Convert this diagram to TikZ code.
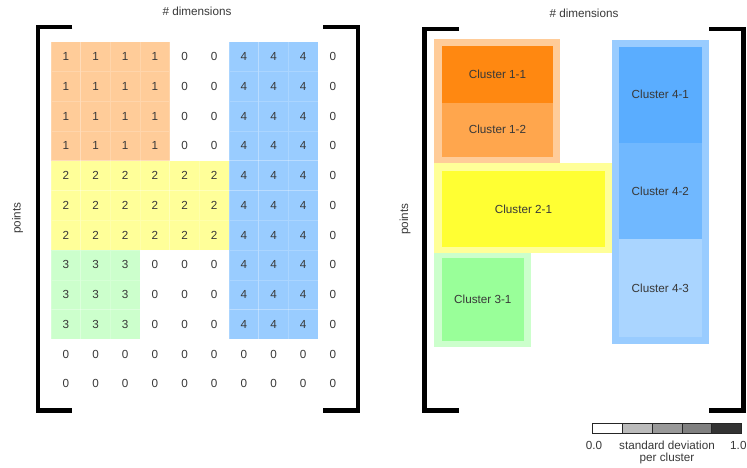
\documentclass[tikz,border=0pt]{standalone}
\usepackage{fontspec}
\setmainfont{Liberation Sans}
\definecolor{lorange}{HTML}{FFCC99}
\definecolor{lyellow}{HTML}{FFFF99}
\definecolor{lgreen}{HTML}{CCFFCC}
\definecolor{lblue}{HTML}{99CCFF}
\definecolor{dorange}{HTML}{FF8811}
\definecolor{morange}{HTML}{FFA64D}
\definecolor{dyellow}{HTML}{FFFF33}
\definecolor{dgreen}{HTML}{99FF99}
\definecolor{blueA}{HTML}{5AADFF}
\definecolor{blueB}{HTML}{70B8FF}
\definecolor{blueC}{HTML}{AAD5FF}
\definecolor{txtgray}{HTML}{383838}
\definecolor{gA}{HTML}{BBBBBB}
\definecolor{gB}{HTML}{999999}
\definecolor{gC}{HTML}{808080}
\definecolor{gD}{HTML}{333333}
\begin{document}
\begin{tikzpicture}[x=1pt,y=-1pt,
  txt/.style={font=\fontsize{11.7}{14}\selectfont, text=txtgray, inner sep=0pt, outer sep=0pt},
  cell/.style={txt, minimum width=29.67pt, minimum height=29.76pt},
  v0/.style={},
  v1/.style={fill=lorange, draw=white, draw opacity=.18, line width=.5pt},
  v2/.style={fill=lyellow, draw=white, draw opacity=.18, line width=.5pt},
  v3/.style={fill=lgreen, draw=white, draw opacity=.18, line width=.5pt},
  v4/.style={fill=lblue, draw=white, draw opacity=.18, line width=.5pt},
  bracket/.style={line width=4.3pt, line join=miter, black},
  box/.style={txt, draw=none},
  legseg/.style={draw=black!85, line width=.8pt, minimum width=29.88pt, minimum height=10pt, inner sep=0pt, outer sep=0pt}
]
\useasboundingbox (0,0) rectangle (747,468);

% ---------- left panel: matrix ----------
\foreach \rowvals [count=\r] in {
  {1,1,1,1,0,0,4,4,4,0},
  {1,1,1,1,0,0,4,4,4,0},
  {1,1,1,1,0,0,4,4,4,0},
  {1,1,1,1,0,0,4,4,4,0},
  {2,2,2,2,2,2,4,4,4,0},
  {2,2,2,2,2,2,4,4,4,0},
  {2,2,2,2,2,2,4,4,4,0},
  {3,3,3,0,0,0,4,4,4,0},
  {3,3,3,0,0,0,4,4,4,0},
  {3,3,3,0,0,0,4,4,4,0},
  {0,0,0,0,0,0,0,0,0,0},
  {0,0,0,0,0,0,0,0,0,0}} {
  \foreach \v [count=\c] in \rowvals {
    \node[cell, v\v] (m-\r-\c) at ({51+29.67*(\c-0.5)}, {41.7+29.76*(\r-0.5)}) {\v};
  }
}

\node[txt] (dimL) at (197,11) {\# dimensions};
\node[txt, rotate=90] (ptsL) at (17.5,218) {points};

\draw[bracket] (72.3,27.2) -- (38,27.2) -- (38,410.5) -- (72.3,410.5);
\draw[bracket] (323.3,27.2) -- (358,27.2) -- (358,410.5) -- (323.3,410.5);

% ---------- right panel: clusters ----------
\node[box, fill=lorange, minimum width=125.7pt, minimum height=124pt] (o1) at (497.15,101.3) {};
\node[box, fill=lyellow, minimum width=178pt, minimum height=90pt] (o2) at (523.3,208.3) {};
\node[box, fill=lgreen, minimum width=96.4pt, minimum height=94pt] (o3) at (482.5,300.3) {};
\node[box, fill=lblue, minimum width=96.4pt, minimum height=303.4pt] (o4) at (660.5,192) {};

\node[box, fill=dorange, minimum width=111.6pt, minimum height=56.4pt] (c11) at (497.5,74.5) {Cluster 1-1};
\node[box, fill=morange, minimum width=111.6pt, minimum height=54pt] (c12) at (497.5,129.7) {Cluster 1-2};
\node[box, fill=dyellow, minimum width=163.6pt, minimum height=75.7pt] (c21) at (523.5,208.85) {Cluster 2-1};
\node[box, fill=dgreen, minimum width=82.3pt, minimum height=82.7pt] (c31) at (482.85,299.35) {Cluster 3-1};
\node[box, fill=blueA, minimum width=82.7pt, minimum height=96pt] (c41) at (660.35,94.7) {Cluster 4-1};
\node[box, fill=blueB, minimum width=82.7pt, minimum height=96.6pt] (c42) at (660.35,191) {Cluster 4-2};
\node[box, fill=blueC, minimum width=82.7pt, minimum height=97.4pt] (c43) at (660.35,288) {Cluster 4-3};

\node[txt] (dimR) at (584,13) {\# dimensions};
\node[txt, rotate=90] (ptsR) at (405,219) {points};

\draw[bracket] (459.3,28.8) -- (424.5,28.8) -- (424.5,410.5) -- (459.3,410.5);
\draw[bracket] (709.3,28.8) -- (743.5,28.8) -- (743.5,410.5) -- (709.3,410.5);

% ---------- legend ----------
\foreach \col [count=\i] in {white,gA,gB,gC,gD} {
  \node[legseg, fill=\col] (leg\i) at ({592.3+29.88*(\i-0.5)},428.3) {};
}
\node[txt, anchor=base] (l0) at (594,449) {0.0};
\node[txt, anchor=base] (lsd) at (667,449) {standard deviation};
\node[txt, anchor=base east] (l1) at (746.5,449) {1.0};
\node[txt, anchor=base] (lpc) at (667,461.5) {per cluster};
\end{tikzpicture}
\end{document}
